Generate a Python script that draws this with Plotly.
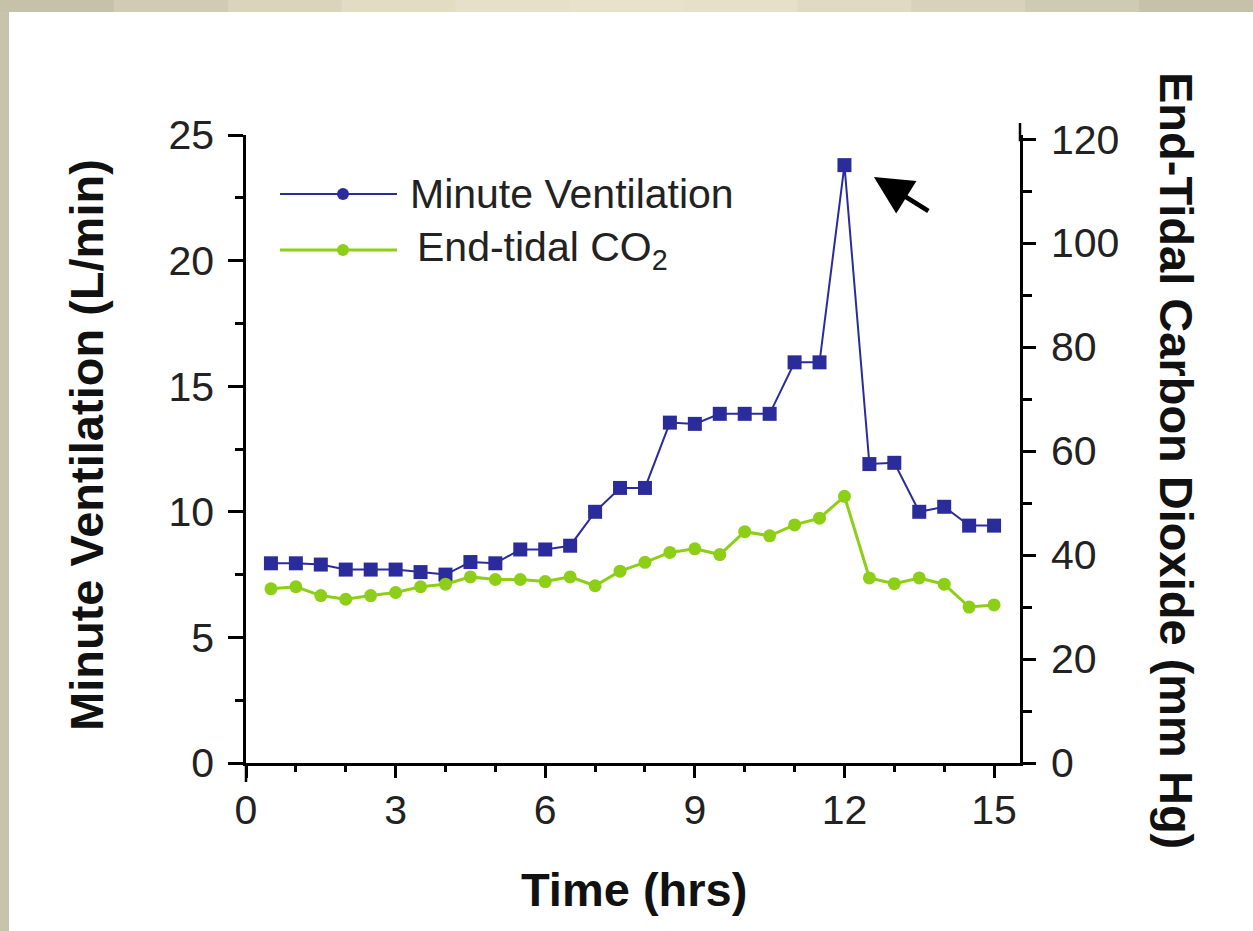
import plotly.graph_objects as go

# ---------------- data ----------------
time_hrs = [0.5, 1.0, 1.5, 2.0, 2.5, 3.0, 3.5, 4.0, 4.5, 5.0,
            5.5, 6.0, 6.5, 7.0, 7.5, 8.0, 8.5, 9.0, 9.5, 10.0,
            10.5, 11.0, 11.5, 12.0, 12.5, 13.0, 13.5, 14.0, 14.5, 15.0]
minute_ventilation = [7.95, 7.95, 7.9, 7.7, 7.7, 7.7, 7.6, 7.5, 8.0, 7.95,
                      8.5, 8.5, 8.65, 10.0, 10.95, 10.95, 13.55, 13.5, 13.9, 13.9,
                      13.9, 15.95, 15.95, 23.8, 11.9, 11.95, 10.0, 10.2, 9.45, 9.45]
end_tidal_co2 = [33.5, 33.9, 32.2, 31.5, 32.2, 32.8, 33.9, 34.4, 35.8, 35.3,
                 35.3, 34.9, 35.8, 34.1, 36.9, 38.6, 40.5, 41.2, 40.1, 44.5,
                 43.7, 45.8, 47.1, 51.3, 35.6, 34.5, 35.6, 34.4, 30.0, 30.4]
x_ticks = [0, 3, 6, 9, 12, 15]
left_ticks = [0, 5, 10, 15, 20, 25]
right_ticks = [0, 20, 40, 60, 80, 100, 120]

BLUE = "#2b2c9b"
GREEN = "#8dcf17"
FONT = "Liberation Sans"

W, H = 1253, 931
ML, MR, MT, MB = 246, 233, 135, 168
PW, PH = W - ML - MR, H - MT - MB


def px(xp):
    return (xp - ML) / PW


def py(yp):
    return (H - MB - yp) / PH


fig = go.Figure()
fig.add_trace(go.Scatter(
    x=time_hrs, y=minute_ventilation, name="Minute Ventilation",
    mode="lines+markers", line=dict(color=BLUE, width=2),
    marker=dict(symbol="square", size=14, color=BLUE), yaxis="y"))
fig.add_trace(go.Scatter(
    x=time_hrs, y=end_tidal_co2, name="End-tidal CO2",
    mode="lines+markers", line=dict(color=GREEN, width=3),
    marker=dict(symbol="circle", size=13, color=GREEN), yaxis="y2"))

axis_common = dict(showline=True, linecolor="black", linewidth=2.5,
                   ticks="outside", tickcolor="black", tickwidth=2.5,
                   showgrid=False, zeroline=False,
                   tickfont=dict(family=FONT, size=41, color="#222"))

fig.update_layout(
    width=W, height=H,
    margin=dict(l=ML, r=MR, t=MT, b=MB, pad=0),
    paper_bgcolor="white", plot_bgcolor="white",
    showlegend=False,
    xaxis=dict(range=[0, 15.52], tickvals=x_ticks, ticklen=12,
               minor=dict(dtick=1, ticklen=6, tickcolor="black", tickwidth=2.5, ticks="outside"),
               ticklabelstandoff=-3, **axis_common),
    yaxis=dict(range=[0, 25], tickvals=left_ticks, ticklen=15,
               minor=dict(dtick=2.5, ticklen=8, tickcolor="black", tickwidth=2.5, ticks="outside"),
               ticklabelstandoff=6, **axis_common),
    yaxis2=dict(range=[0, 120.8], tickvals=right_ticks, ticklen=13, overlaying="y", side="right",
                minor=dict(dtick=10, ticklen=9, tickcolor="black", tickwidth=2.5, ticks="outside"),
                ticklabelstandoff=7, **axis_common),
)

shapes = []
# beige frame strips (top gradient approximated with segments, left strip)
top_cols = ["#c6c2aa", "#d0cbb2", "#dad4bb", "#e2dcc3", "#e7e0c8", "#e8e2ca",
            "#e6e0c8", "#e0dac2", "#d8d2ba", "#cfcab2", "#c6c2aa"]
seg = W / len(top_cols)
for i, c in enumerate(top_cols):
    shapes.append(dict(type="rect", xref="paper", yref="paper",
                       x0=px(i * seg), x1=px((i + 1) * seg + 1), y0=py(12), y1=py(0),
                       fillcolor=c, line=dict(width=0), layer="below"))
shapes.append(dict(type="rect", xref="paper", yref="paper",
                   x0=px(0), x1=px(9), y0=py(H), y1=py(12),
                   fillcolor="#c8c4ac", line=dict(width=0), layer="below"))
# right axis line extends a little above the plot top
shapes.append(dict(type="line", xref="paper", yref="paper",
                   x0=1, x1=1, y0=0.99, y1=py(123), line=dict(color="black", width=2.5)))
# left axis line extends a little below the x axis
shapes.append(dict(type="line", xref="paper", yref="paper",
                   x0=0, x1=0, y0=0, y1=py(782), line=dict(color="black", width=2.5)))

# custom legend
leg = [("Minute Ventilation", BLUE, 194, 408, 2),
       ("End-tidal CO<sub>2</sub>", GREEN, 250, 415, 3)]
annotations = []
for label, col, ly, tx, lw in leg:
    shapes.append(dict(type="line", xref="paper", yref="paper",
                       x0=px(280), x1=px(397), y0=py(ly), y1=py(ly),
                       line=dict(color=col, width=lw)))
    r = 6
    shapes.append(dict(type="circle", xref="paper", yref="paper",
                       x0=px(343 - r), x1=px(343 + r), y0=py(ly + r), y1=py(ly - r),
                       fillcolor=col, line=dict(color=col, width=0)))
    annotations.append(dict(text=label, xref="paper", yref="paper", x=px(tx), y=py(ly),
                            xanchor="left", yanchor="middle", showarrow=False,
                            font=dict(family=FONT, size=41, color="#222")))

# axis titles
annotations.append(dict(text="Time (hrs)", xref="paper", yref="paper", x=px(634), y=py(889),
                        xanchor="center", yanchor="middle", showarrow=False,
                        font=dict(family=FONT, size=47, color="#111", weight="bold")))
annotations.append(dict(text="Minute Ventilation (L/min)", xref="paper", yref="paper",
                        x=px(86), y=py(445), xanchor="center", yanchor="middle",
                        textangle=-90, showarrow=False,
                        font=dict(family=FONT, size=47, color="#111", weight="bold")))
annotations.append(dict(text="End-Tidal Carbon Dioxide (mm Hg)", xref="paper", yref="paper",
                        x=px(1176), y=py(460), xanchor="center", yanchor="middle",
                        textangle=90, showarrow=False,
                        font=dict(family=FONT, size=47, color="#111", weight="bold")))
# arrow pointing at the peak
annotations.append(dict(text="", x=12.59, y=23.33, xref="x", yref="y",
                        showarrow=True, arrowhead=2, arrowwidth=4.5, arrowsize=1.7,
                        arrowcolor="black", ax=56, ay=35))

fig.update_layout(shapes=shapes, annotations=annotations)
fig.write_html("out.html", config={"displayModeBar": False},
               post_script="document.body.style.margin='0';document.body.style.padding='0';")
